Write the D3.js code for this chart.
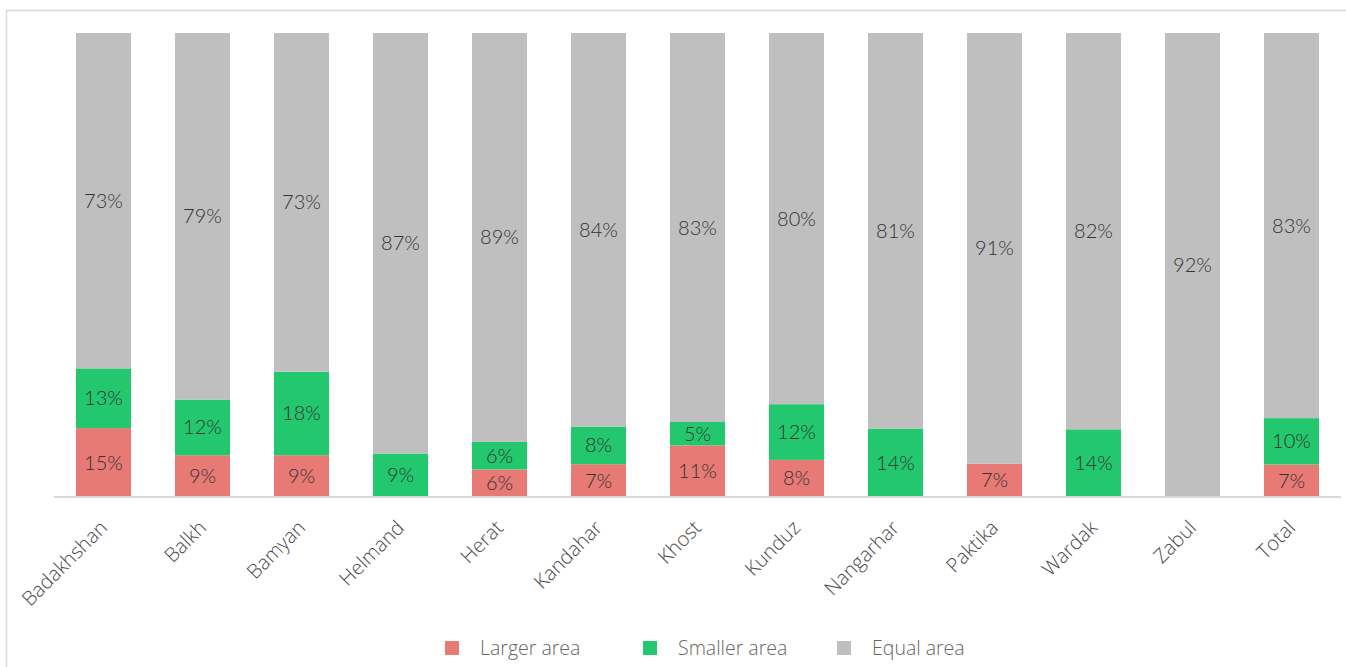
<!DOCTYPE html>
<html>
<head>
<meta charset="utf-8">
<script src="https://cdn.jsdelivr.net/npm/d3@7/dist/d3.min.js"></script>
<style>
  html, body { margin: 0; padding: 0; background: #fff; }
  svg { display: block; }
</style>
</head>
<body>
<svg id="chart" width="1346" height="667"></svg>
<script>
// Provinces along the x axis
const categories = ["Badakhshan", "Balkh", "Bamyan", "Helmand", "Herat", "Kandahar",
  "Khost", "Kunduz", "Nangarhar", "Paktika", "Wardak", "Zabul", "Total"];

// Share of respondents (%) per answer
const largerArea  = [15, 9, 9, 0, 6, 7, 11, 8, 0, 7, 0, 0, 7];
const smallerArea = [13, 12, 18, 9, 6, 8, 5, 12, 14, 0, 14, 0, 10];
const equalArea   = [73, 79, 73, 87, 89, 84, 83, 80, 81, 91, 82, 92, 83];

const seriesNames = ["Larger area", "Smaller area", "Equal area"];
const seriesColors = ["#E77A74", "#22C76E", "#BFBFBF"];

const rows = categories.map((c, i) => ({
  category: c,
  "Larger area": largerArea[i],
  "Smaller area": smallerArea[i],
  "Equal area": equalArea[i]
}));

const svg = d3.select("#chart");
const W = 1346, H = 667;

// chart frame
svg.append("path")
  .attr("d", `M6.5,${H + 5} V10.5 H${W + 5}`)
  .attr("fill", "none")
  .attr("stroke", "#D9D9D9")
  .attr("stroke-width", 1.5);

const x = d3.scaleBand()
  .domain(categories)
  .range([54, 1341])
  .paddingInner(0.444)
  .paddingOuter(0.222);

const y = d3.scaleLinear().domain([0, 1]).range([497, 33]);

const color = d3.scaleOrdinal().domain(seriesNames).range(seriesColors);

// 100% stacked layout
const stacked = d3.stack()
  .keys(seriesNames)
  .offset(d3.stackOffsetExpand)(rows);

const layers = svg.append("g")
  .selectAll("g.layer")
  .data(stacked)
  .join("g")
  .attr("class", "layer")
  .attr("fill", d => color(d.key));

layers.selectAll("rect")
  .data(d => d.map(p => ({ key: d.key, p })))
  .join("rect")
  .attr("x", d => x(d.p.data.category))
  .attr("width", x.bandwidth())
  .attr("y", d => y(d.p[1]))
  .attr("height", d => Math.max(0, y(d.p[0]) - y(d.p[1])));

// value labels centred in each segment
const labels = svg.append("g")
  .attr("font-family", "Lato, 'Open Sans', sans-serif")
  .attr("font-weight", 300)
  .attr("font-size", 20)
  .attr("fill", "#333333")
  .attr("text-anchor", "middle");

stacked.forEach(layer => {
  layer.forEach(p => {
    const v = p.data[layer.key];
    if (!v) return;
    labels.append("text")
      .attr("x", x(p.data.category) + x.bandwidth() / 2)
      .attr("y", (y(p[0]) + y(p[1])) / 2)
      .attr("dy", "0.35em")
      .text(v + "%");
  });
});

// category axis
const xAxis = svg.append("g").attr("transform", "translate(0,497)");
xAxis.append("line")
  .attr("x1", 54).attr("x2", 1341)
  .attr("y1", 0).attr("y2", 0)
  .attr("stroke", "#D9D9D9")
  .attr("stroke-width", 2);

xAxis.selectAll("text")
  .data(categories)
  .join("text")
  .attr("transform", d => `translate(${x(d) + x.bandwidth() / 2 + 5},${32}) rotate(-45)`)
  .attr("text-anchor", "end")
  .attr("font-family", "'Open Sans', sans-serif")
  .attr("font-weight", 300)
  .attr("font-size", 20)
  .attr("fill", "#4a4a4a")
  .text(d => d);

// legend
const legendX = [445, 643, 837];
const legend = svg.append("g")
  .selectAll("g")
  .data(seriesNames)
  .join("g")
  .attr("transform", (d, i) => `translate(${legendX[i]},641)`);

legend.append("rect")
  .attr("width", 14).attr("height", 14)
  .attr("fill", d => color(d));

legend.append("text")
  .attr("x", 35)
  .attr("y", 14)
  .attr("font-family", "'Open Sans', sans-serif")
  .attr("font-weight", 300)
  .attr("font-size", 19.5)
  .attr("fill", "#666666")
  .text(d => d);
</script>
</body>
</html>
